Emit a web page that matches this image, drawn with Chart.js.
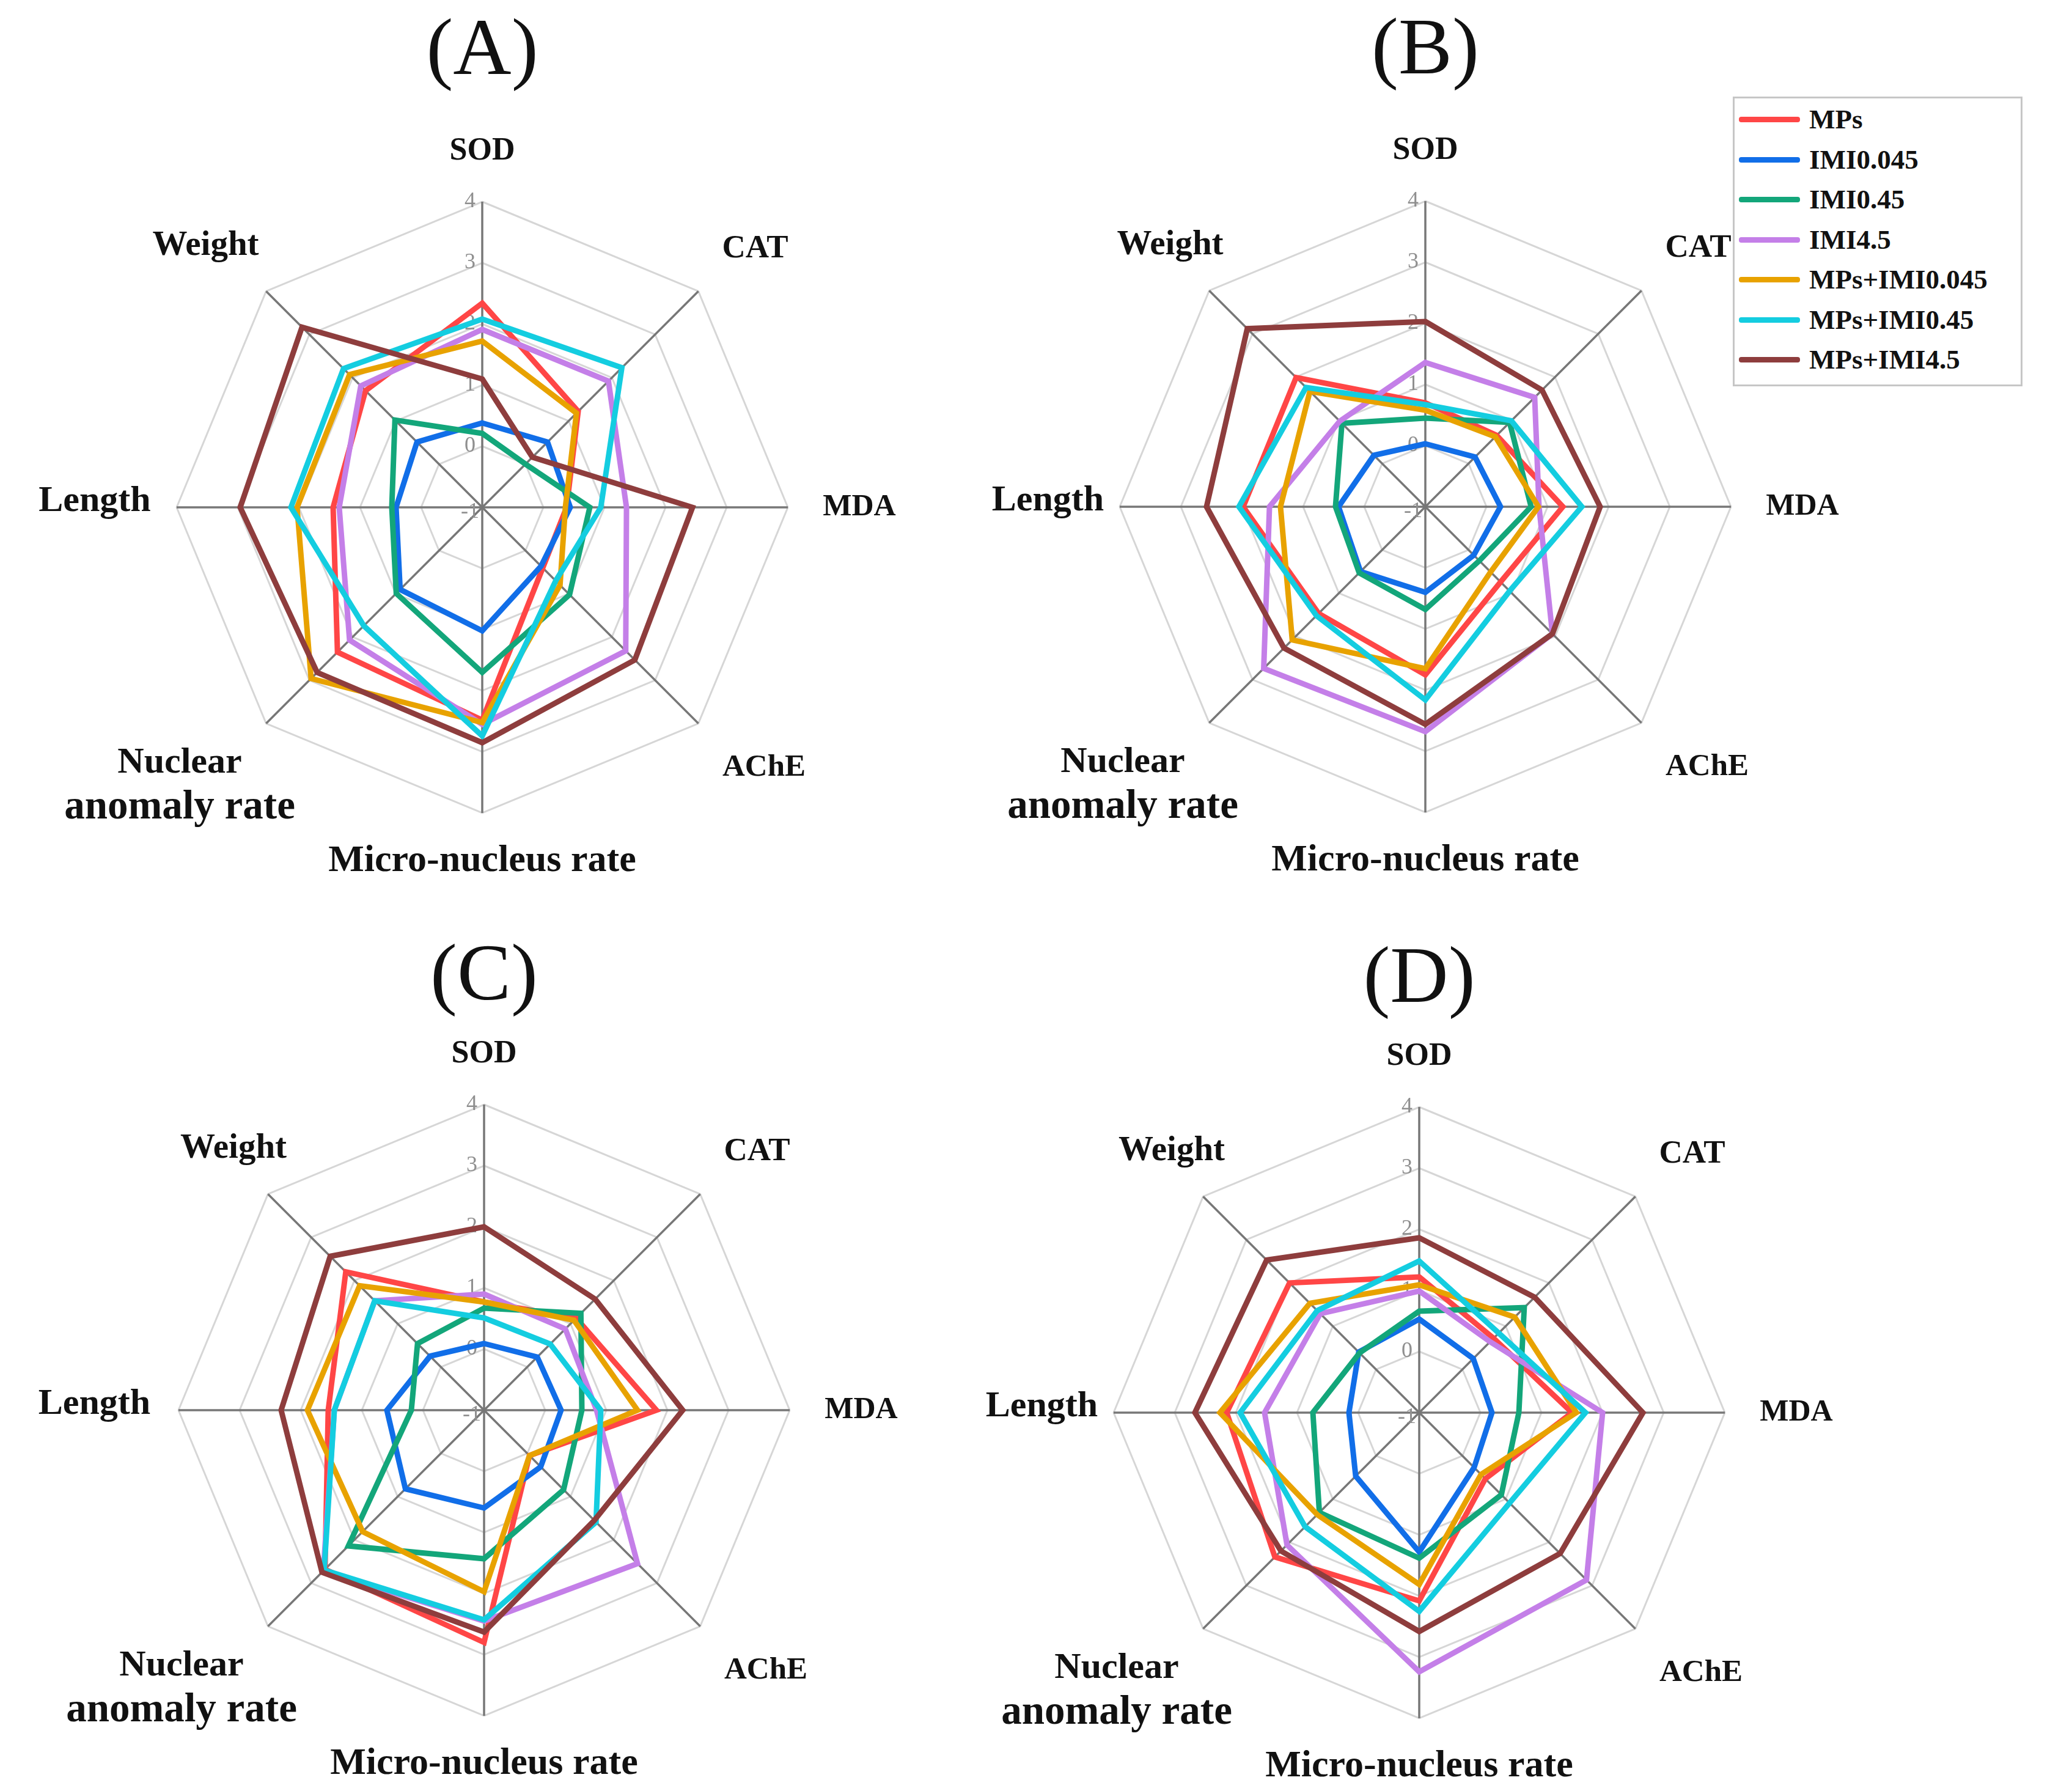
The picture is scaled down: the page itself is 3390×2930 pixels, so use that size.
<!DOCTYPE html>
<html>
<head>
<meta charset="utf-8">
<script src="https://cdn.jsdelivr.net/npm/chart.js@4.4.1/dist/chart.umd.min.js"></script>
<style>
  html, body { margin:0; padding:0; background:#ffffff; }
  body { width:3390px; height:2930px; position:relative; overflow:hidden; }
  canvas.panel { position:absolute; }
  #legend { position:absolute; left:2835px; top:158px; width:474px; height:474px; box-sizing:border-box;
            border:3px solid #c6c6c6; background:#ffffff; font-family:"Liberation Serif","Times New Roman",serif; }
  #legend .row { position:absolute; left:0; height:60px; width:100%; }
  #legend .swatch { position:absolute; left:7px; top:26px; width:100px; height:9px; border-radius:4px; }
  #legend .txt { position:absolute; left:122px; top:0; line-height:60px; font-size:45px; font-weight:bold; color:#111; white-space:nowrap; }
</style>
</head>
<body>
<canvas id="cA" class="panel" width="1700" height="1600"></canvas>
<canvas id="cB" class="panel" width="1700" height="1600"></canvas>
<canvas id="cC" class="panel" width="1700" height="1600"></canvas>
<canvas id="cD" class="panel" width="1700" height="1600"></canvas>
<div id="legend"></div>
<script>
// ---------------- data ----------------
const categories = ['SOD', 'CAT', 'MDA', 'AChE', 'Micro-nucleus rate', ['Nuclear', 'anomaly rate'], 'Length', 'Weight'];
const seriesNames = ['MPs', 'IMI0.045', 'IMI0.45', 'IMI4.5', 'MPs+IMI0.045', 'MPs+IMI0.45', 'MPs+IMI4.5'];
const tickValues = [-1, 0, 1, 2, 3, 4];
const panelTitles = ['(A)', '(B)', '(C)', '(D)'];

// Panel A
const A_MPs       = [2.34, 1.22, 0.38, 0.40, 2.48, 2.35, 1.44, 1.70];
const A_IMI0045   = [0.38, 0.51, 0.44, 0.36, 1.02, 0.90, 0.41, 0.51];
const A_IMI045    = [0.21, 0.00, 0.76, 1.02, 1.70, 0.99, 0.48, 1.02];
const A_IMI45     = [1.91, 1.92, 1.36, 2.32, 2.55, 2.07, 1.34, 1.81];
const A_MPsIMI0045 = [1.72, 1.18, 0.36, 0.80, 2.52, 2.96, 2.03, 2.07];
const A_MPsIMI045 = [2.08, 2.23, 0.94, 0.70, 2.74, 1.74, 2.13, 2.21];
const A_MPsIMI45  = [1.10, 0.16, 2.44, 2.53, 2.85, 2.82, 2.96, 3.17];

// Panel B
const B_MPs       = [0.70, 0.65, 1.25, 0.74, 1.75, 1.47, 1.98, 1.99];
const B_IMI0045   = [0.03, 0.15, 0.23, 0.12, 0.40, 0.50, 0.42, 0.19];
const B_IMI045    = [0.45, 0.95, 0.73, 0.25, 0.68, 0.53, 0.47, 0.93];
const B_IMI45     = [1.36, 1.53, 0.86, 1.94, 2.68, 2.74, 1.55, 0.98];
const B_MPsIMI0045 = [0.58, 0.62, 0.85, 0.51, 1.65, 2.08, 1.37, 1.67];
const B_MPsIMI045 = [0.67, 0.99, 1.56, 0.95, 2.16, 1.52, 2.05, 1.76];
const B_MPsIMI45  = [2.03, 1.70, 1.86, 1.94, 2.56, 2.27, 2.58, 3.12];

// Panel C
const C_MPs       = [0.77, 1.13, 1.82, 0.05, 2.80, 2.68, 1.55, 2.20];
const C_IMI0045   = [0.09, 0.23, 0.26, 0.31, 0.60, 0.82, 0.59, 0.25];
const C_IMI045    = [0.67, 1.24, 0.60, 0.84, 1.43, 2.14, 0.19, 0.54];
const C_IMI45     = [0.90, 0.88, 0.84, 2.55, 2.45, 2.72, 1.45, 1.53];
const C_MPsIMI0045 = [0.77, 1.08, 1.51, 0.05, 1.97, 1.81, 1.89, 1.88];
const C_MPsIMI045 = [0.51, 0.53, 0.91, 1.59, 2.43, 2.70, 1.45, 1.53];
const C_MPsIMI45  = [2.00, 1.57, 2.25, 1.55, 2.63, 2.75, 2.32, 2.56];

// Panel D
const D_MPs       = [1.22, 0.72, 1.50, 0.53, 2.08, 2.34, 2.15, 2.00];
const D_IMI0045   = [0.53, 0.25, 0.19, 0.27, 1.28, 0.47, 0.15, 0.40];
const D_IMI045    = [0.66, 1.43, 0.63, 0.90, 1.38, 1.31, 0.74, 0.38];
const D_IMI45     = [0.99, 0.64, 2.00, 2.87, 3.24, 2.06, 1.53, 1.29];
const D_MPsIMI0045 = [1.09, 1.21, 1.57, 0.43, 1.81, 1.36, 2.26, 1.53];
const D_MPsIMI045 = [1.48, 0.84, 1.72, 1.09, 2.25, 1.64, 1.93, 1.36];
const D_MPsIMI45  = [1.86, 1.67, 2.66, 2.26, 2.58, 2.20, 2.67, 2.53];

// ---------------- styling / layout ----------------
const seriesColors = ['#ff4646', '#116ee8', '#13a67a', '#c47fe8', '#e8a200', '#14cde0', '#8e3d3d'];
const SERIF = '"Liberation Serif","Times New Roman",serif';

const panels = [
  { id:'cA', title:panelTitles[0], cx:789,  cy:830,  titleDy:-744, lenX:-1.268, wtX:-0.905, data:[A_MPs,A_IMI0045,A_IMI045,A_IMI45,A_MPsIMI0045,A_MPsIMI045,A_MPsIMI45] },
  { id:'cB', title:panelTitles[1], cx:2332, cy:829,  titleDy:-744, lenX:-1.235, wtX:-0.835, data:[B_MPs,B_IMI0045,B_IMI045,B_IMI45,B_MPsIMI0045,B_MPsIMI045,B_MPsIMI45] },
  { id:'cC', title:panelTitles[2], cx:792,  cy:2307, titleDy:-707, lenX:-1.275, wtX:-0.82,  data:[C_MPs,C_IMI0045,C_IMI045,C_IMI45,C_MPsIMI0045,C_MPsIMI045,C_MPsIMI45] },
  { id:'cD', title:panelTitles[3], cx:2322, cy:2311, titleDy:-707, lenX:-1.235, wtX:-0.81,  data:[D_MPs,D_IMI0045,D_IMI045,D_IMI45,D_MPsIMI0045,D_MPsIMI045,D_MPsIMI45] },
];

// label centre offsets in units of the radius, and font sizes per line
const labelOffset = [[0, -1.165], [0.893, -0.846], [1.234, 0.0], [0.922, 0.851], [0.0, 1.158], [-0.99, 0.91], [null, -0.02], [null, -0.855]];
const labelSize = [[52], [53], [50], [51], [62], [60], [67], [60], [57]];
const labelFonts = [[52], [53], [50], [51], [62], [60, 67], [60], [57]];

const CANVAS_W = 1700, CANVAS_H = 1600, CX_LOCAL = 850, CY_LOCAL = 840, RADIUS = 500;

const decor = {
  id: 'decor',
  beforeDatasetsDraw(chart) {
    const s = chart.scales.r;
    const ctx = chart.ctx;
    ctx.save();
    ctx.fillStyle = '#8f8f8f';
    ctx.font = '36px ' + SERIF;
    ctx.textAlign = 'center';
    ctx.textBaseline = 'middle';
    tickValues.forEach(v => {
      const d = s.getDistanceFromCenterForValue(v);
      ctx.fillText(String(v), s.xCenter - 20, s.yCenter - d + (v === -1 ? 8 : 0));
    });
    ctx.restore();
  },
  afterDraw(chart, args, opts) {
    const s = chart.scales.r;
    const ctx = chart.ctx;
    const R = s.drawingArea;
    ctx.save();
    ctx.fillStyle = '#111';
    ctx.textAlign = 'center';
    ctx.textBaseline = 'middle';
    categories.forEach((lab, i) => {
      const lines = Array.isArray(lab) ? lab : [lab];
      let fx = labelOffset[i][0];
      if (i === 6) fx = opts.lenX;
      if (i === 7) fx = opts.wtX;
      const x = s.xCenter + fx * R;
      const y = s.yCenter + labelOffset[i][1] * R;
      const gap = 74;
      const y0 = y - (lines.length - 1) * gap / 2;
      lines.forEach((ln, j) => {
        ctx.font = 'bold ' + labelFonts[i][j] + 'px ' + SERIF;
        ctx.fillText(ln, x, y0 + j * gap);
      });
    });
    ctx.font = '132px ' + SERIF;
    ctx.fillText(opts.title, s.xCenter, s.yCenter + opts.titleDy);
    ctx.restore();
  }
};

panels.forEach(p => {
  const cv = document.getElementById(p.id);
  cv.style.left = (p.cx - CX_LOCAL) + 'px';
  cv.style.top = (p.cy - CY_LOCAL) + 'px';
  new Chart(cv, {
    type: 'radar',
    data: {
      labels: categories,
      datasets: seriesNames.map((n, i) => ({
        label: n,
        data: p.data[i],
        borderColor: seriesColors[i],
        backgroundColor: 'rgba(0,0,0,0)',
        borderWidth: 9,
        fill: false,
        order: seriesNames.length - i
      }))
    },
    options: {
      responsive: false,
      animation: false,
      devicePixelRatio: 1,
      layout: { padding: { left: CX_LOCAL - RADIUS, right: CANVAS_W - CX_LOCAL - RADIUS, top: CY_LOCAL - RADIUS, bottom: CANVAS_H - CY_LOCAL - RADIUS } },
      elements: {
        line: { tension: 0, borderJoinStyle: 'miter' },
        point: { radius: 0, hoverRadius: 0 }
      },
      plugins: {
        legend: { display: false },
        tooltip: { enabled: false },
        decor: { title: p.title, titleDy: p.titleDy, lenX: p.lenX, wtX: p.wtX }
      },
      scales: {
        r: {
          min: -1, max: 4,
          ticks: { display: false, stepSize: 1 },
          pointLabels: { display: false },
          grid: { circular: false, color: '#d6d6d6', lineWidth: 3 },
          angleLines: { color: '#777777', lineWidth: 3.5 }
        }
      }
    },
    plugins: [decor]
  });
});

// legend (panel B)
const leg = document.getElementById('legend');
seriesNames.forEach((n, i) => {
  const row = document.createElement('div');
  row.className = 'row';
  row.style.top = (4 + i * 65.5) + 'px';
  const sw = document.createElement('div');
  sw.className = 'swatch';
  sw.style.background = seriesColors[i];
  const tx = document.createElement('div');
  tx.className = 'txt';
  tx.textContent = n;
  row.appendChild(sw); row.appendChild(tx);
  leg.appendChild(row);
});
</script>
</body>
</html>
